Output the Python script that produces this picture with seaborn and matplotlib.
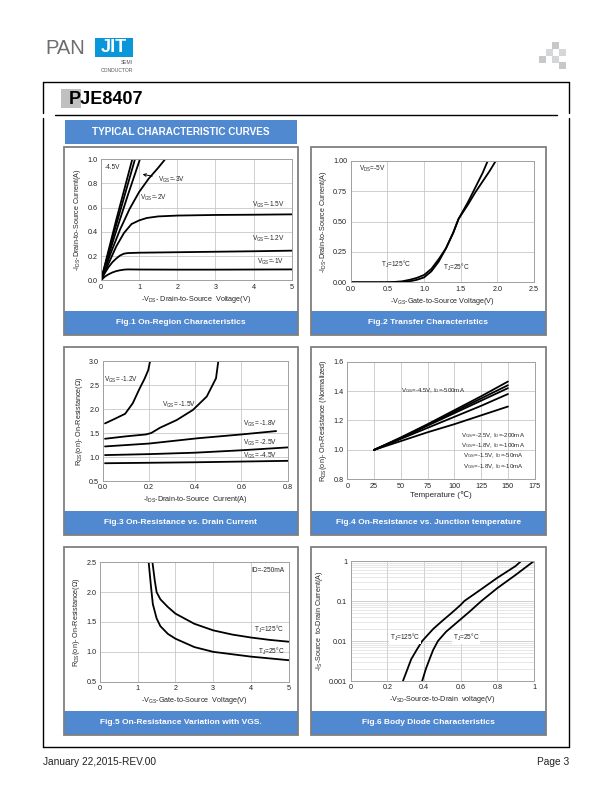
import matplotlib
matplotlib.use('Agg')
import matplotlib.pyplot as plt
import seaborn as sns
import pandas as pd
from matplotlib.patches import Rectangle
from matplotlib.ticker import FixedLocator, LogLocator, NullFormatter

# ---- Fig.1 On-Region: -VDS (V) vs -IDS (A), one curve per VGS
vgs_names = ['-1V', '-1.2V', '-1.5V', '-2V', '-2.5V', '-3V', '-4.5V']
vds_1v = [0, 0.1, 0.2, 0.3, 0.4, 0.5, 0.6, 0.7, 1.0, 2.0, 3.0, 4.0, 5.0]
ids_1v = [0, 0.03, 0.05, 0.065, 0.076, 0.083, 0.088, 0.09, 0.089, 0.088, 0.088, 0.089, 0.09]
vds_12v = [0, 0.1, 0.2, 0.3, 0.4, 0.5, 0.6, 0.7, 1.0, 2.0, 3.0, 4.0, 5.0]
ids_12v = [0, 0.06, 0.11, 0.15, 0.18, 0.205, 0.22, 0.225, 0.228, 0.232, 0.236, 0.24, 0.245]
vds_15v = [0, 0.2, 0.4, 0.6, 0.8, 1.0, 1.2, 1.5, 2.0, 3.0, 4.0, 5.0]
ids_15v = [0, 0.14, 0.28, 0.39, 0.465, 0.495, 0.515, 0.528, 0.535, 0.54, 0.542, 0.545]
vds_2v = [0, 0.25, 0.5, 0.75, 1.0, 1.25, 1.5, 1.68]
ids_2v = [0, 0.22, 0.42, 0.59, 0.73, 0.84, 0.93, 1.0]
vds_25v = [0, 0.3, 0.6, 0.89]
ids_25v = [0, 0.35, 0.68, 1.0]
vds_3v = [0, 0.35, 0.7, 1.02]
ids_3v = [0, 0.36, 0.7, 1.0]
vds_45v = [0, 0.4, 0.82]
ids_45v = [0, 0.5, 1.0]

# ---- Fig.2 Transfer: -VGS (V) vs -IDS (A)
vgs_t125 = [0, 0.5, 0.6, 0.7, 0.8, 0.9, 1.0, 1.1, 1.2, 1.3, 1.4, 1.47, 1.6, 1.7, 1.8, 1.87]
ids_t125 = [0, 0, 0.003, 0.008, 0.02, 0.036, 0.06, 0.11, 0.19, 0.28, 0.41, 0.52, 0.66, 0.78, 0.9, 1.0]
vgs_t25 = [0, 0.6, 0.7, 0.8, 0.9, 1.0, 1.1, 1.2, 1.3, 1.4, 1.47, 1.6, 1.7, 1.8, 1.9, 1.98]
ids_t25 = [0, 0, 0.002, 0.008, 0.02, 0.04, 0.09, 0.17, 0.28, 0.41, 0.52, 0.64, 0.74, 0.83, 0.92, 1.0]

# ---- Fig.3 On-Resistance vs drain current
id_12v = [0.01, 0.05, 0.097, 0.13, 0.16, 0.18, 0.197, 0.205]
r_12v = [1.70, 1.79, 1.90, 2.12, 2.43, 2.62, 2.81, 3.0]
id_15v = [0.01, 0.1, 0.187, 0.21, 0.248, 0.32, 0.39, 0.45, 0.49, 0.50]
r_15v = [1.38, 1.43, 1.47, 1.50, 1.61, 1.77, 1.98, 2.26, 2.64, 3.0]
id_18v = [0.01, 0.2, 0.41, 0.6, 0.75]
r_18v = [1.22, 1.28, 1.39, 1.47, 1.54]
id_25v = [0.01, 0.2, 0.4, 0.6, 0.8]
r_25v = [1.04, 1.06, 1.09, 1.14, 1.20]
id_45v = [0.01, 0.4, 0.8]
r_45v = [0.87, 0.89, 0.92]

# ---- Fig.4 Normalized RDS(on) vs temperature
temps = [25, 50, 75, 100, 125, 150]
rn_500ma = [1.00, 1.085, 1.175, 1.27, 1.365, 1.465]
rn_200ma = [1.00, 1.08, 1.17, 1.26, 1.35, 1.44]
rn_100ma = [1.00, 1.08, 1.165, 1.25, 1.335, 1.42]
rn_50ma = [1.00, 1.075, 1.15, 1.225, 1.30, 1.38]
rn_10ma = [1.00, 1.06, 1.12, 1.175, 1.235, 1.295]

# ---- Fig.5 RDS(on) vs VGS
vgs_r125 = [1.39, 1.45, 1.5, 1.6, 1.8, 2.0, 2.5, 3.0, 3.5, 4.0, 4.5, 5.0]
r_125 = [2.5, 2.2, 2.0, 1.88, 1.75, 1.64, 1.47, 1.36, 1.29, 1.24, 1.2, 1.17]
vgs_r25 = [1.29, 1.35, 1.4, 1.5, 1.6, 1.8, 2.0, 2.5, 3.0, 3.5, 4.0, 4.5, 5.0]
r_25 = [2.5, 2.1, 1.8, 1.56, 1.43, 1.3, 1.22, 1.08, 1.0, 0.96, 0.92, 0.89, 0.86]

# ---- Fig.6 Body diode
vsd_125 = [0.285, 0.31, 0.33, 0.36, 0.39, 0.45, 0.5, 0.55, 0.6, 0.62, 0.7, 0.8, 0.9, 0.93]
is_125 = [0.001, 0.002, 0.0035, 0.006, 0.01, 0.02, 0.032, 0.05, 0.08, 0.1, 0.18, 0.38, 0.75, 1.0]
vsd_25 = [0.39, 0.41, 0.43, 0.45, 0.476, 0.52, 0.6, 0.65, 0.713, 0.8, 0.9, 1.0]
is_25 = [0.001, 0.002, 0.0035, 0.006, 0.01, 0.017, 0.035, 0.055, 0.1, 0.21, 0.45, 1.0]

captions = ['Fig.1 On-Region Characteristics', 'Fig.2 Transfer Characteristics',
            'Fig.3 On-Resistance vs. Drain Current', 'Fig.4 On-Resistance vs. Junction temperature',
            'Fig.5 On-Resistance Variation with VGS.', 'Fig.6 Body Diode Characteristics']

sns.set_style('white')
plt.rcParams['font.family'] = ['Liberation Sans', 'DejaVu Sans']
plt.rcParams['mathtext.fontset'] = 'custom'
plt.rcParams['mathtext.rm'] = 'Liberation Sans'
plt.rcParams['mathtext.it'] = 'Liberation Sans:italic'
plt.rcParams['mathtext.bf'] = 'Liberation Sans:bold'
plt.rcParams['mathtext.default'] = 'rm'
plt.rcParams['axes.unicode_minus'] = False

W, H = 612, 792
BLUE = '#5189d1'
GRID = '#c8c8c8'
FS = 5.2   # tick / axis label size
FA = 4.7   # annotation size

fig = plt.figure(figsize=(W / 100, H / 100), dpi=100)


def rect(x0, y0, x1, y1):
    return [x0 / W, 1 - y1 / H, (x1 - x0) / W, (y1 - y0) / H]


# page furniture
ov = fig.add_axes([0, 0, 1, 1])
ov.set_xlim(0, W)
ov.set_ylim(H, 0)
ov.axis('off')

ov.text(45, 48, 'PAN', fontsize=14.5, color='#6d6e71', va='center', ha='left')
ov.add_patch(Rectangle((95, 38), 38, 19, color='#0a97d9', lw=0))
ov.text(114, 48, 'JIT', fontsize=13, fontweight='bold', color='white', va='center', ha='center')
ov.text(133, 63, 'SEMI', fontsize=3.6, color='#555555', va='center', ha='right')
ov.text(133, 71, 'CONDUCTOR', fontsize=3.6, color='#555555', va='center', ha='right')
for (cx, cy, cc) in [(552, 42, '#c6c8ca'), (546, 49, '#d4d6d8'), (559, 49, '#d4d6d8'),
                     (539, 56, '#c6c8ca'), (552, 56, '#d4d6d8'), (559, 62, '#c6c8ca')]:
    ov.add_patch(Rectangle((cx, cy), 6.5, 6.5, color=cc, lw=0))

ov.plot([43, 569], [82, 82], color='black', lw=1)
ov.plot([43, 569], [747, 747], color='black', lw=1)
for xx in (43, 569):
    ov.plot([xx, xx], [82, 113], color='black', lw=1)
    ov.plot([xx, xx], [118, 747], color='black', lw=1)
ov.plot([55, 557], [115, 115], color='black', lw=1)
ov.add_patch(Rectangle((61, 89), 20, 19, color='#c0c0c0', lw=0))
ov.text(69, 99, 'PJE8407', fontsize=13, fontweight='bold', color='black', va='center', ha='left')

ov.add_patch(Rectangle((65, 120), 232, 24, color=BLUE, lw=0))
ov.text(181, 132, 'TYPICAL CHARACTERISTIC CURVES', fontsize=7.2, fontweight='bold',
        color='white', va='center', ha='center')

ov.text(43, 762, 'January 22,2015-REV.00', fontsize=7.3, color='#222222', va='center', ha='left')
ov.text(569, 762, 'Page 3', fontsize=7.3, color='#222222', va='center', ha='right')

panel_x = [(64, 298), (311, 546)]
panel_y = [147, 347, 547]
for i, cap in enumerate(captions):
    x0, x1 = panel_x[i % 2]
    y0 = panel_y[i // 2]
    ov.add_patch(Rectangle((x0, y0 + 164), x1 - x0, 24, color=BLUE, lw=0))
    ov.add_patch(Rectangle((x0, y0), x1 - x0, 188, fill=False, ec='#7f7f7f', lw=1.3))
    ov.text((x0 + x1) / 2, y0 + 176, cap, fontsize=6.0, fontweight='bold', color='white',
            va='center', ha='center')


def style(ax, xticks, yticks, xlabels, ylabels):
    ax.set_xticks(xticks)
    ax.set_yticks(yticks)
    ax.set_xticklabels(xlabels)
    ax.set_yticklabels(ylabels)
    ax.set_xlim(xticks[0], xticks[-1])
    ax.set_ylim(yticks[0], yticks[-1])
    ax.grid(True, color=GRID, lw=0.6)
    ax.tick_params(length=0, pad=2.5, labelsize=FS, colors='#222222')
    for s in ax.spines.values():
        s.set_color('#a0a0a0')
        s.set_linewidth(0.7)


def line(ax, x, y):
    sns.lineplot(x=x, y=y, ax=ax, color='black', lw=1.3, estimator=None, sort=False)


def fmt(vals, f):
    return [f.format(v) for v in vals]


# Fig.1
ax1 = fig.add_axes(rect(101, 159.3, 291.7, 280.3))
for x, y in [(vds_1v, ids_1v), (vds_12v, ids_12v), (vds_15v, ids_15v), (vds_2v, ids_2v),
             (vds_25v, ids_25v), (vds_3v, ids_3v), (vds_45v, ids_45v)]:
    line(ax1, x, y)
t1 = [0, 1, 2, 3, 4, 5]
t1y = [0, 0.2, 0.4, 0.6, 0.8, 1.0]
style(ax1, t1, t1y, fmt(t1, '{}'), fmt(t1y, '{:.1f}'))
ax1.set_xlabel('-V$_{DS}$- Drain-to-Source  Voltage(V)', fontsize=FS, labelpad=2)
ax1.set_ylabel('-I$_{DS}$-Drain-to-Source Current(A)', fontsize=FS, labelpad=3)
ax1.text(0.09, 0.93, '-4.5V', fontsize=FA, va='center')
ax1.annotate('V$_{GS}$=-3V', xy=(1.02, 0.88), xytext=(1.5, 0.83), fontsize=FA, va='center',
             arrowprops=dict(arrowstyle='->', color='black', lw=0.7))
ax1.text(1.02, 0.68, 'V$_{GS}$=-2V', fontsize=FA, va='center')
ax1.text(4.8, 0.62, 'V$_{GS}$=-1.5V', fontsize=FA, va='center', ha='right')
ax1.text(4.8, 0.34, 'V$_{GS}$=-1.2V', fontsize=FA, va='center', ha='right')
ax1.text(4.8, 0.15, 'V$_{GS}$=-1V', fontsize=FA, va='center', ha='right')

# Fig.2
ax2 = fig.add_axes(rect(350.7, 160.7, 534, 282.3))
line(ax2, vgs_t125, ids_t125)
line(ax2, vgs_t25, ids_t25)
t2 = [0, 0.5, 1.0, 1.5, 2.0, 2.5]
t2y = [0, 0.25, 0.5, 0.75, 1.0]
style(ax2, t2, t2y, fmt(t2, '{:.1f}'), fmt(t2y, '{:.2f}'))
ax2.set_xlabel('-V$_{GS}$-Gate-to-Source Voltage(V)', fontsize=FS, labelpad=2)
ax2.set_ylabel('-I$_{DS}$-Drain-to-Source Current(A)', fontsize=FS, labelpad=3)
ax2.text(0.11, 0.93, 'V$_{DS}$=-5V', fontsize=FA, va='center')
ax2.text(0.41, 0.15, 'T$_J$=125°C', fontsize=FA, va='center')
ax2.text(1.26, 0.12, 'T$_J$=25°C', fontsize=FA, va='center')

# Fig.3
ax3 = fig.add_axes(rect(102.7, 361, 287.7, 481))
for x, y in [(id_12v, r_12v), (id_15v, r_15v), (id_18v, r_18v), (id_25v, r_25v), (id_45v, r_45v)]:
    line(ax3, x, y)
t3 = [0, 0.2, 0.4, 0.6, 0.8]
t3y = [0.5, 1.0, 1.5, 2.0, 2.5, 3.0]
style(ax3, t3, t3y, fmt(t3, '{:.1f}'), fmt(t3y, '{:.1f}'))
ax3.set_xlabel('-I$_{DS}$-Drain-to-Source  Current(A)', fontsize=FS, labelpad=2)
ax3.set_ylabel('R$_{DS}$(on)- On-Resistance(Ω)', fontsize=FS, labelpad=3)
ax3.text(0.007, 2.6, 'V$_{GS}$= -1.2V', fontsize=FA, va='center')
ax3.text(0.255, 2.08, 'V$_{GS}$= -1.5V', fontsize=FA, va='center')
ax3.text(0.605, 1.70, 'V$_{GS}$= -1.8V', fontsize=FA, va='center')
ax3.text(0.605, 1.29, 'V$_{GS}$= -2.5V', fontsize=FA, va='center')
ax3.text(0.605, 1.02, 'V$_{GS}$= -4.5V', fontsize=FA, va='center')

# Fig.4
ax4 = fig.add_axes(rect(347.3, 361.7, 534.7, 479.3))
for y in [rn_500ma, rn_200ma, rn_100ma, rn_50ma, rn_10ma]:
    line(ax4, temps, y)
t4 = [0, 25, 50, 75, 100, 125, 150, 175]
t4y = [0.8, 1.0, 1.2, 1.4, 1.6]
style(ax4, t4, t4y, fmt(t4, '{}'), fmt(t4y, '{:.1f}'))
ax4.set_xlabel('Temperature (℃)', fontsize=FS + 0.6, labelpad=1)
ax4.set_ylabel('R$_{DS}$(on)- On-Resistance (Normalized)', fontsize=FS, labelpad=3)
ax4.text(50, 1.40, 'V$_{GS}$=-4.5V, I$_D$=-500mA', fontsize=FA - 0.3, va='center')
for yy, s in [(1.097, 'V$_{GS}$=-2.5V, I$_D$=-200mA'), (1.029, 'V$_{GS}$=-1.8V, I$_D$=-100mA'),
              (0.958, 'V$_{GS}$=-1.5V, I$_D$=-50mA'), (0.886, 'V$_{GS}$=-1.8V, I$_D$=-10mA')]:
    ax4.text(136, yy, s, fontsize=FA - 0.3, va='center', ha='center')

# Fig.5
ax5 = fig.add_axes(rect(100, 562.3, 288.7, 681.7))
line(ax5, vgs_r125, r_125)
line(ax5, vgs_r25, r_25)
t5 = [0, 1, 2, 3, 4, 5]
t5y = [0.5, 1.0, 1.5, 2.0, 2.5]
style(ax5, t5, t5y, fmt(t5, '{}'), fmt(t5y, '{:.1f}'))
ax5.set_xlabel('-V$_{GS}$-Gate-to-Source  Voltage(V)', fontsize=FS, labelpad=2)
ax5.set_ylabel('R$_{DS}$(on)- On-Resistance(Ω)', fontsize=FS, labelpad=3)
ax5.text(4.88, 2.37, 'ID=-250mA', fontsize=FA, va='center', ha='right')
ax5.text(4.88, 1.37, 'T$_J$=125°C', fontsize=FA, va='center', ha='right')
ax5.text(4.88, 1.01, 'T$_J$=25°C', fontsize=FA, va='center', ha='right')

# Fig.6
ax6 = fig.add_axes(rect(350.7, 561, 534, 681))
line(ax6, vsd_125, is_125)
line(ax6, vsd_25, is_25)
ax6.set_yscale('log')
t6 = [0, 0.2, 0.4, 0.6, 0.8, 1.0]
style(ax6, t6, [0.001, 1], ['0', '0.2', '0.4', '0.6', '0.8', '1'], ['0.001', '1'])
ax6.yaxis.set_major_locator(FixedLocator([0.001, 0.01, 0.1, 1]))
ax6.set_yticklabels(['0.001', '0.01', '0.1', '1'])
ax6.yaxis.set_minor_locator(LogLocator(base=10, subs=range(2, 10)))
ax6.yaxis.set_minor_formatter(NullFormatter())
ax6.tick_params(which='minor', length=0)
ax6.grid(True, which='minor', axis='y', color='#dcdcdc', lw=0.5)
ax6.set_xlabel('-V$_{SD}$-Source-to-Drain  voltage(V)', fontsize=FS, labelpad=2)
ax6.set_ylabel('-I$_S$-Source  to-Drain Current(A)', fontsize=FS, labelpad=3)
box = dict(facecolor='white', edgecolor='none', pad=0.6)
ax6.text(0.213, 0.0121, 'T$_J$=125°C', fontsize=FA, va='center', bbox=box)
ax6.text(0.558, 0.0121, 'T$_J$=25°C', fontsize=FA, va='center', bbox=box)

fig.savefig('out.png', dpi=100)
